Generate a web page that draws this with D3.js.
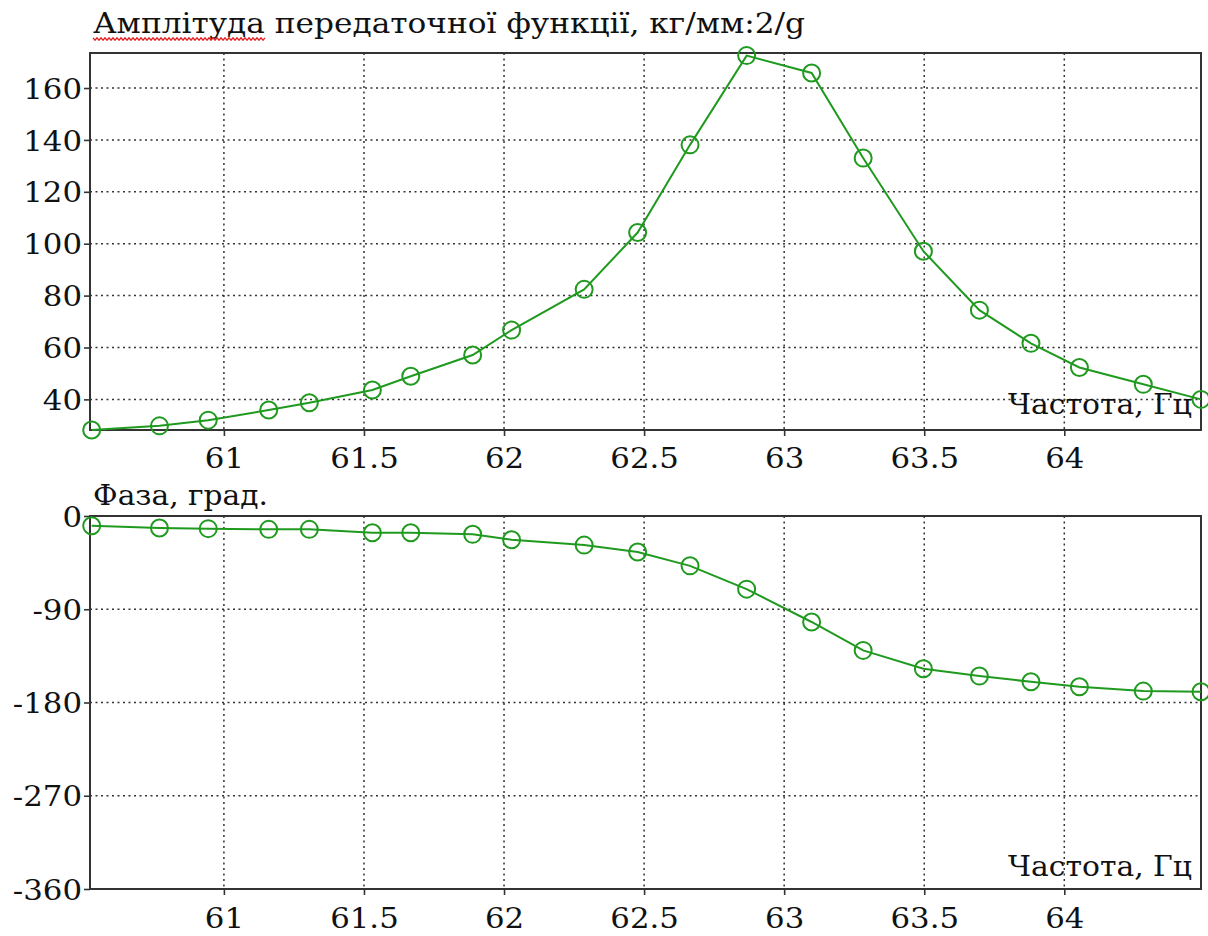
<!DOCTYPE html>
<html>
<head>
<meta charset="utf-8">
<script src="https://cdn.jsdelivr.net/npm/d3@7"></script>
<style>
  html, body { margin: 0; padding: 0; background: #fff; }
  svg { display: block; }
  text { font-family: "DejaVu Serif", "Liberation Serif", serif; fill: #111; }
</style>
</head>
<body>
<svg id="chart" width="1208" height="936"></svg>
<script>
// Frequency points of the measurement, Hz
const frequency = [60.528, 60.77, 60.944, 61.16, 61.305, 61.53, 61.667, 61.888, 62.027, 62.286,
  62.477, 62.664, 62.866, 63.098, 63.282, 63.497, 63.697, 63.881, 64.054, 64.282, 64.488];
// Transfer function amplitude, kg/mm:2/g
const amplitude = [28.2, 29.8, 32.0, 35.9, 38.7, 43.6, 48.9, 57.1, 66.7, 82.4,
  104.3, 138.1, 172.5, 165.8, 133.0, 97.1, 74.4, 61.6, 52.3, 45.8, 40.0];
// Transfer function phase, degrees
const phase = [-9.4, -11.6, -12.2, -12.9, -12.9, -16.2, -16.2, -17.7, -22.9, -28.1,
  -34.8, -48.1, -70.6, -102.3, -129.7, -147.4, -154.5, -160.0, -164.8, -169.0, -169.6];

const freqTicks = [61, 61.5, 62, 62.5, 63, 63.5, 64];
const ampTicks = [40, 60, 80, 100, 120, 140, 160];
const phaseTicks = [0, -90, -180, -270, -360];

const titleAmp = "Амплітуда передаточної функції, кг/мм:2/g";
const titlePhase = "Фаза, град.";
const freqLabel = "Частота, Гц";

const svg = d3.select("#chart");
const lineColor = "#1f9a1f";
const axisColor = "#333";
const fontSize = "28px";
const stretchX = 1.1;

const left = 90, right = 1201;
const x = d3.scaleLinear().domain([60.522, 64.488]).range([left, right]);

// widen glyphs horizontally around each text's own anchor point
function stretch(sel, sx) {
  sel.each(function () {
    const t = d3.select(this);
    const ax = +t.attr("x") || 0;
    t.attr("transform", `translate(${ax * (1 - sx)},0) scale(${sx},1)`);
  });
}

function panel(cfg) {
  const y = d3.scaleLinear().domain(cfg.domain).range([cfg.bottom, cfg.top]);
  const g = svg.append("g");

  // dotted grid
  g.append("g").selectAll("line").data(freqTicks).join("line")
    .attr("x1", d => x(d)).attr("x2", d => x(d))
    .attr("y1", cfg.top).attr("y2", cfg.bottom)
    .attr("stroke", axisColor).attr("stroke-width", 1.5).attr("stroke-dasharray", "2,3.5");
  g.append("g").selectAll("line").data(cfg.ticks).join("line")
    .attr("x1", left).attr("x2", right)
    .attr("y1", d => y(d)).attr("y2", d => y(d))
    .attr("stroke", axisColor).attr("stroke-width", 1.5).attr("stroke-dasharray", "2,3.5");

  // axes
  const xAxis = d3.axisBottom(x).tickValues(freqTicks).tickFormat(d => String(d)).tickSize(6).tickPadding(8);
  const yAxis = d3.axisLeft(y).tickValues(cfg.ticks).tickFormat(d => String(d)).tickSize(6).tickPadding(3);
  const gx = g.append("g").attr("transform", `translate(0,${cfg.bottom})`).call(xAxis);
  const gy = g.append("g").attr("transform", `translate(${left},0)`).call(yAxis);
  [gx, gy].forEach(a => {
    a.select(".domain").remove();
    a.selectAll(".tick line").attr("stroke", axisColor).attr("stroke-width", 1.6);
    a.selectAll(".tick text").attr("fill", "#111").style("font-size", fontSize)
      .style("font-family", "DejaVu Serif, serif");
  });
  gx.selectAll(".tick text").attr("y", 0).attr("dy", 0)
    .attr("transform", null)
    .attr("y", cfg.xLabelBaseline);
  gy.selectAll(".tick text").attr("dy", "0.36em").attr("x", -8);
  stretch(gx.selectAll(".tick text"), stretchX);
  stretch(gy.selectAll(".tick text"), stretchX);

  // frame
  g.append("rect").attr("x", left).attr("y", cfg.top)
    .attr("width", right - left).attr("height", cfg.bottom - cfg.top)
    .attr("fill", "none").attr("stroke", axisColor).attr("stroke-width", 2);

  // series
  const pts = frequency.map((f, i) => [f, cfg.values[i]]);
  g.append("path").datum(pts)
    .attr("fill", "none").attr("stroke", lineColor).attr("stroke-width", 2)
    .attr("d", d3.line().x(d => x(d[0])).y(d => y(d[1])));
  g.append("g").selectAll("circle").data(pts).join("circle")
    .attr("cx", d => x(d[0])).attr("cy", d => y(d[1])).attr("r", 8.5)
    .attr("fill", "none").attr("stroke", lineColor).attr("stroke-width", 2);

  // captions
  g.append("text").attr("x", 93).attr("y", cfg.titleBaseline)
    .style("font-size", fontSize)
    .attr("textLength", cfg.titleWidth).attr("lengthAdjust", "spacingAndGlyphs")
    .text(cfg.title);
  g.append("text").attr("x", 1192).attr("y", cfg.freqBaseline)
    .attr("text-anchor", "end").style("font-size", fontSize)
    .attr("textLength", 184).attr("lengthAdjust", "spacingAndGlyphs")
    .text(freqLabel);
  return g;
}

panel({ top: 53, bottom: 430, domain: [28.2, 173.5], ticks: ampTicks, values: amplitude,
  title: titleAmp, titleBaseline: 33, titleWidth: 712, freqBaseline: 414, xLabelBaseline: 38 });
panel({ top: 516, bottom: 889, domain: [-360, 0], ticks: phaseTicks, values: phase,
  title: titlePhase, titleBaseline: 505, titleWidth: 175, freqBaseline: 876, xLabelBaseline: 39 });

// wavy spell-check style underline below the first word of the heading
const wave = [];
for (let px = 93; px <= 265; px += 2) wave.push([px, 39 + (((px - 93) / 2) % 2 ? 1.2 : -1.2)]);
svg.append("path").datum(wave)
  .attr("fill", "none").attr("stroke", "#e02020").attr("stroke-width", 1.3)
  .attr("d", d3.line());
</script>
</body>
</html>
